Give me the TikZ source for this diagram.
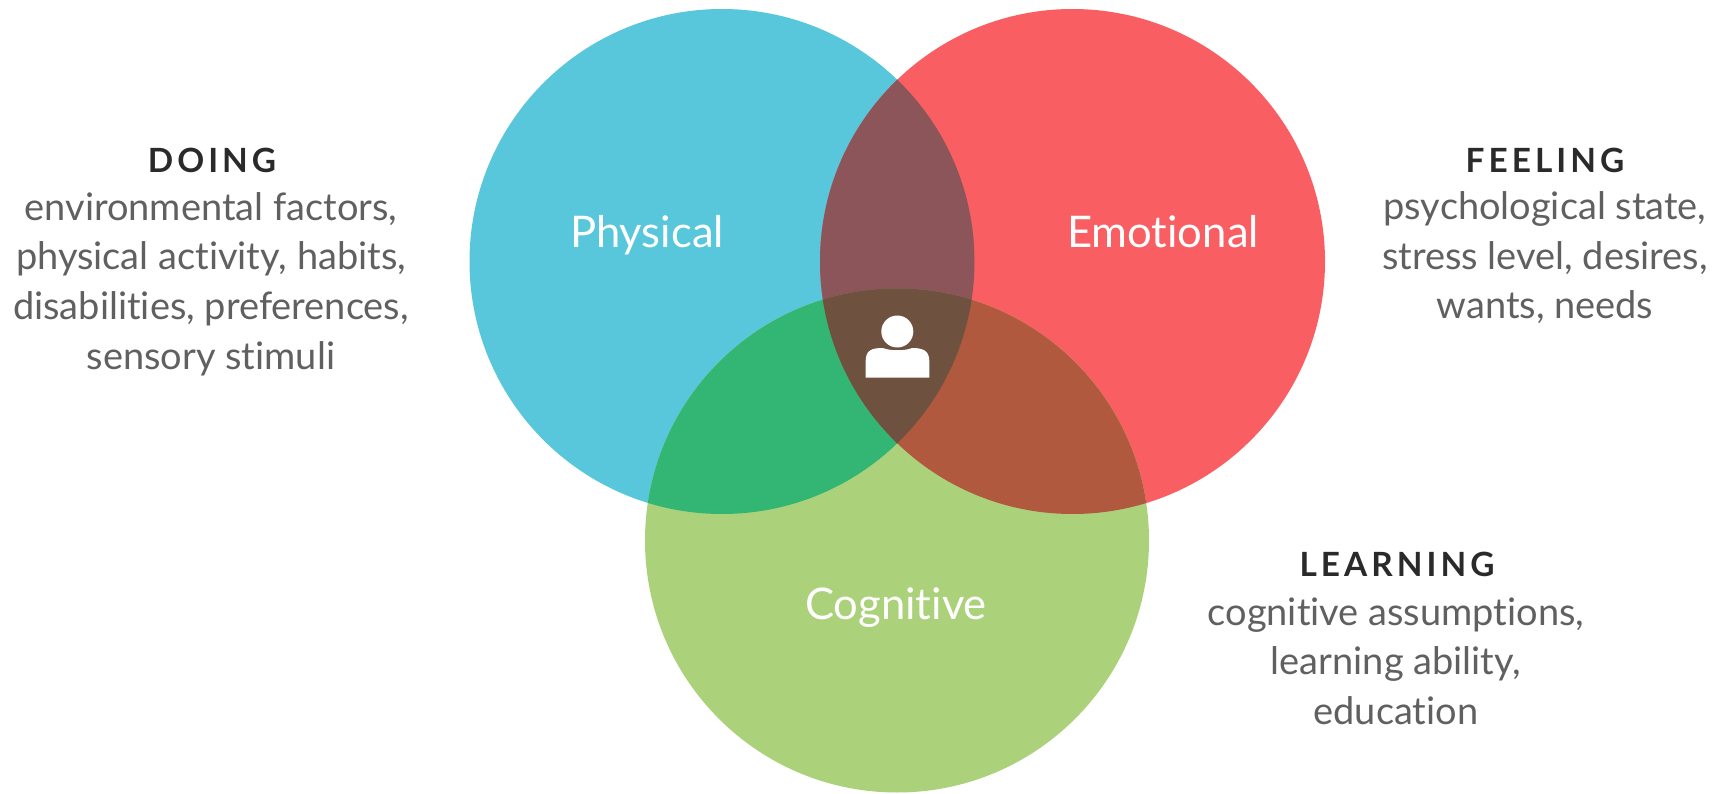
\documentclass[tikz,border=0pt]{standalone}
\usepackage{fontspec}
\usepackage{xcolor}
\setmainfont{Lato}[Ligatures=NoCommon]
\newfontfamily\headfont[LetterSpace=12]{Lato}
\definecolor{physblue}{HTML}{58C7DB}
\definecolor{emored}{HTML}{F95F62}
\definecolor{coggreen}{HTML}{ABD27A}
\definecolor{bluered}{HTML}{8B5559}
\definecolor{bluegreen}{HTML}{33B573}
\definecolor{redgreen}{HTML}{B0593E}
\definecolor{allthree}{HTML}{6F5140}
\definecolor{bodygrey}{HTML}{606060}
\definecolor{headdark}{HTML}{2A2A2A}
\newcommand{\circP}{(7.22,5.315) circle (2.525)}
\newcommand{\circE}{(10.725,5.315) circle (2.525)}
\newcommand{\circC}{(8.97,2.525) circle (2.52)}
\tikzset{
  bodytext/.style={align=center,text=bodygrey,inner sep=0pt,font=\fontsize{10.8}{14.1}\selectfont},
  headtext/.style={text=headdark,inner sep=0pt,font=\headfont\bfseries\fontsize{9.5}{11}\selectfont},
  circtext/.style={text=white,inner sep=0pt,font=\fontsize{12.4}{15}\selectfont}
}
\begin{document}
\begin{tikzpicture}
\useasboundingbox (0,0) rectangle (17.16,7.93);

\fill[physblue] \circP;
\fill[emored] \circE;
\fill[coggreen] \circC;
\begin{scope}
\clip \circP;
\fill[bluered] \circE;
\fill[bluegreen] \circC;
\end{scope}
\begin{scope}
\clip \circE;
\fill[redgreen] \circC;
\end{scope}
\begin{scope}
\clip \circP;
\clip \circE;
\fill[allthree] \circC;
\end{scope}

% person in the middle
\fill[white] (8.973,4.615) circle (0.16);
\fill[white] (8.657,4.153) -- (9.293,4.153) -- (9.293,4.32)
  .. controls (9.293,4.43) and (9.22,4.45) .. (9.12,4.45)
  .. controls (9.06,4.42) and (8.89,4.42) .. (8.83,4.45)
  .. controls (8.72,4.45) and (8.657,4.43) .. (8.657,4.32) -- cycle;

\node[circtext] (physical) at (6.47,5.58) {Physical};
\node[circtext] (emotional) at (11.63,5.61) {Emotional};
\node[circtext] (cognitive) at (8.96,1.85) {Cognitive};

\node[headtext] (doing) at (2.12,6.33) {DOING};
\node[bodytext] (doingtext) at (2.11,5.09) {environmental factors,\\physical activity, habits,\\disabilities, preferences,\\sensory stimuli};

\node[headtext] (feeling) at (15.45,6.33) {FEELING};
\node[bodytext] (feelingtext) at (15.45,5.35) {psychological state,\\stress level, desires,\\wants, needs};

\node[headtext] (learning) at (13.97,2.29) {LEARNING};
\node[bodytext] (learningtext) at (13.96,1.32) {cognitive assumptions,\\learning ability,\\education};
\end{tikzpicture}
\end{document}
